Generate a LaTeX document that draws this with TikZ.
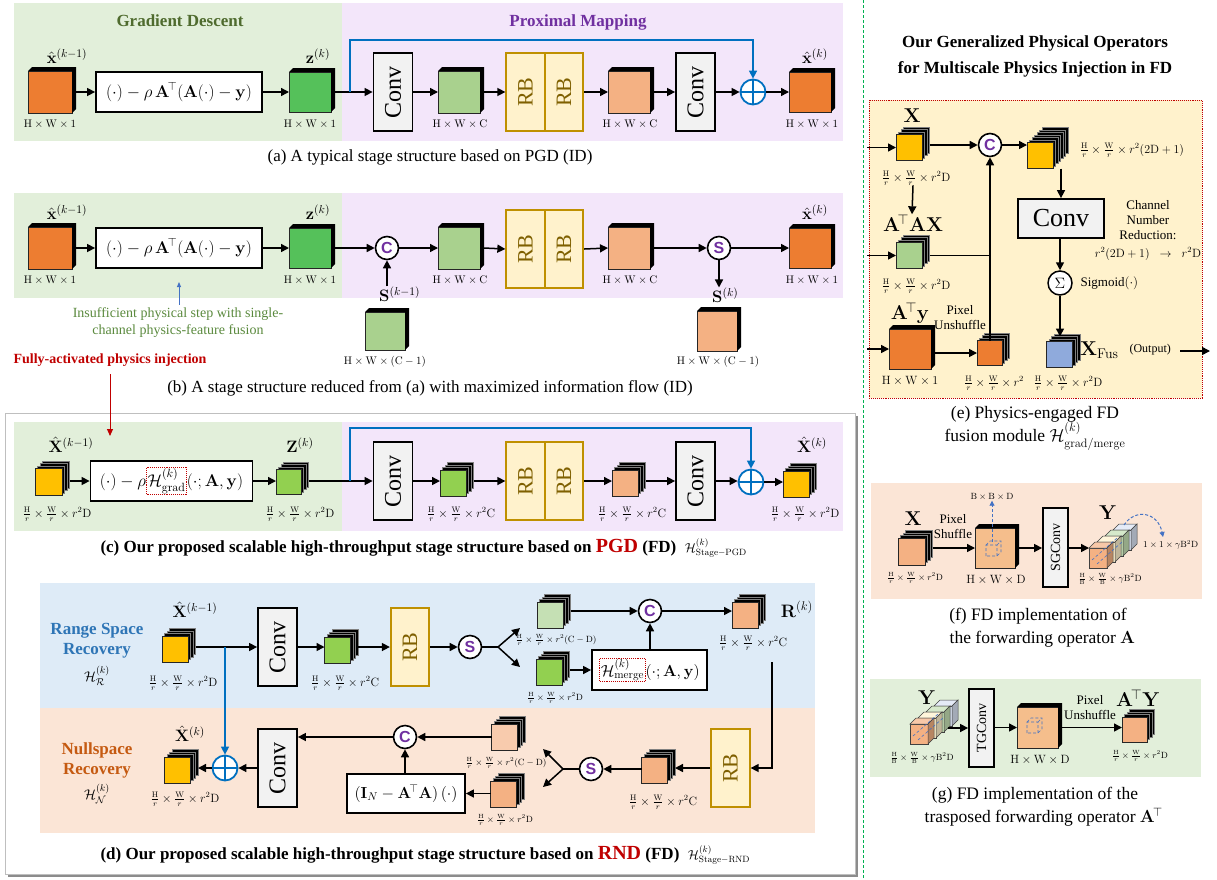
\RequirePackage{fix-cm}
\documentclass[tikz,border=0pt]{standalone}
\usepackage{amsmath}
\usepackage{graphicx}
\usepackage[no-math]{fontspec}
\setmainfont{Liberation Serif}
\newfontfamily\sansf{Liberation Sans}
\usetikzlibrary{arrows.meta,calc}

\definecolor{bgG}{HTML}{E2EFDA}
\definecolor{bgP}{HTML}{F3E6FA}
\definecolor{bgB}{HTML}{DEEBF7}
\definecolor{bgO}{HTML}{FBE5D6}
\definecolor{bgY}{HTML}{FFF2CC}
\definecolor{orC}{HTML}{ED7D31}
\definecolor{grC}{HTML}{55C15A}
\definecolor{lgC}{HTML}{A9D18E}
\definecolor{g2C}{HTML}{92D050}
\definecolor{pgC}{HTML}{C5E0B4}
\definecolor{saC}{HTML}{F4B183}
\definecolor{peC}{HTML}{F8CBAD}
\definecolor{yeC}{HTML}{FFC000}
\definecolor{blC}{HTML}{8FAADC}
\definecolor{rbF}{HTML}{FFF2CC}
\definecolor{rbB}{HTML}{BF9000}
\definecolor{rbT}{HTML}{7F6000}
\definecolor{cvF}{HTML}{F2F2F2}
\definecolor{lblue}{HTML}{0070C0}
\definecolor{dblue}{HTML}{4472C4}
\definecolor{purp}{HTML}{7030A0}
\definecolor{gdT}{HTML}{4F6B2E}
\definecolor{rsT}{HTML}{2E75B6}
\definecolor{nsT}{HTML}{C55A11}
\definecolor{redC}{HTML}{C00000}
\definecolor{insG}{HTML}{5B8A3E}
\definecolor{sepG}{HTML}{00B050}
\definecolor{bcF}{HTML}{F5BE8C}
\definecolor{ycB}{HTML}{DAE3F3}
\definecolor{ycY}{HTML}{FFF2CC}

\newcommand\szT{\fontsize{17}{20}\selectfont}
\newcommand\szF{\fontsize{17}{20}\selectfont}
\newcommand\szL{\fontsize{11}{13}\selectfont}
\newcommand\szQ{\fontsize{12}{14}\selectfont}
\newcommand\szM{\fontsize{16.5}{19}\selectfont}
\newcommand\szS{\fontsize{14}{17}\selectfont}
\newcommand\szXS{\fontsize{9}{11}\selectfont}
\newcommand\szConv{\fontsize{24}{28}\selectfont}
\newcommand\szRB{\fontsize{22}{26}\selectfont}

\newcommand\cubeone[5]{%
  \node[cubeface, fill=#5, minimum width=#3, minimum height=#4] (#1) at (#2) {};
  \fill[black] (#1.north west) -- ++(4,-4) -- ([shift={(4,-4)}]#1.north east) -- ([shift={(4,-4)}]#1.south east) -- (#1.south east) -- (#1.north east) -- cycle;
  \coordinate (#1-r) at ([xshift=4]#1.east);
}
\newcommand\cubestack[5][3]{%
  \foreach \ii in {#1,...,1}{\node[stackface, minimum size=#4] (#2-l\ii) at ($(#3)+(2.5*\ii,-2.5*\ii)$) {};}
  \node[cubeface, fill=#5, minimum size=#4] (#2) at (#3) {};
  \coordinate (#2-r) at ([xshift=2.5*#1]#2.east);
}
\newcommand\dcube[1]{%
  \begin{scope}[shift={(#1)}]
  \draw[dblue, densely dashed, line width=0.6pt] (0,0) rectangle (11,-11) (0,-11) -- (4,-15) -- (15,-15) -- (15,-4) -- (11,0) (11,-11) -- (15,-15);
  \end{scope}}
\newcommand\ycubes[1]{%
  \foreach \cc/\kk in {ycB/3,pgC/2,ycY/1,saC/0}{%
    \begin{scope}[shift={($(#1)+(8*\kk,-6*\kk)$)}]
    \filldraw[fill=\cc, draw=black!75, line width=0.5pt] (0,0) rectangle (18,-20);
    \filldraw[fill=\cc!70!white, draw=black!75, line width=0.5pt] (0,-20) -- (6,-26) -- (24,-26) -- (18,-20) -- cycle;
    \filldraw[fill=\cc!75!black, draw=black!75, line width=0.5pt] (18,0) -- (24,-6) -- (24,-26) -- (18,-20) -- cycle;
    \end{scope}}
  \draw[dblue, densely dashed, line width=0.6pt] ($(#1)+(3,-8)$) -- ($(#1)+(28,-30)$) ($(#1)+(8,-4)$) -- ($(#1)+(33,-26)$);
}

\begin{document}
\begin{tikzpicture}[x=1pt,y=-1pt,
  cubeface/.style={draw=black!85, line width=0.5pt, inner sep=0, outer sep=0},
  stackface/.style={draw=black!50, fill=black, line width=0.4pt, inner sep=0, outer sep=0},
  fbox/.style={draw, line width=1.8pt, fill=white, inner sep=2pt, font=\szF},
  convbox/.style={draw, line width=1.8pt, fill=cvF, minimum width=39, minimum height=78, inner sep=0},
  rbbox/.style={draw=rbB, line width=1.8pt, fill=rbF, minimum width=38.5, minimum height=78, inner sep=0, text=rbT},
  circ/.style={circle, draw, line width=1.6pt, fill=white, minimum size=23, inner sep=0, text=purp, font=\sansf\bfseries\fontsize{16}{16}\selectfont},
  opl/.style={circle, draw=lblue, line width=1.8pt, fill=white, minimum size=25, inner sep=0,
    path picture={\draw[lblue, line width=1.8pt] (path picture bounding box.north) -- (path picture bounding box.south) (path picture bounding box.west) -- (path picture bounding box.east);}},
  arr/.style={-{Triangle[length=8pt,width=8pt]}, line width=1.5pt},
  barr/.style={arr, draw=lblue},
  ln/.style={line width=1.5pt},
  lab/.style={inner sep=0, font=\szL},
  flab/.style={inner sep=0, font=\szQ},
  tlab/.style={inner sep=0, font=\szXS},
  mlab/.style={inner sep=0, font=\szM},
  hbox/.style={draw=redC, densely dotted, line width=0.9pt, inner sep=1pt, outer sep=0pt, minimum width=0pt, minimum height=0pt, fill=none, anchor=base}
]
\useasboundingbox (0,0) rectangle (1217,879);
\fill[white] (0,0) rectangle (1217,879);

% separator
\draw[sepG, line width=0.9pt, dash pattern=on 3pt off 2pt] (863,0) -- (863,879);

% ================= (a) =================
\fill[bgG] (14,3) rectangle (342,141);
\fill[bgP] (342,3) rectangle (843,141);
\node[font=\szT\bfseries, text=gdT] (ta1) at (180,21) {Gradient Descent};
\node[font=\szT\bfseries, text=purp] (ta2) at (578,22) {Proximal Mapping};
\cubeone{xa0}{50,92}{44}{42}{orC}
\node[mlab] (la1) at (67,56) {$\hat{\mathbf{x}}^{(k-1)}$};
\node[lab] (la2) at (50,124) {$\mathrm{H}\times\mathrm{W}\times1$};
\node[fbox, minimum width=166, minimum height=40] (fa) at (179,92) {$(\cdot)-\rho\,\mathbf{A}^{\!\top}(\mathbf{A}(\cdot)-\mathbf{y})$};
\cubeone{za}{310,92}{42}{40}{grC}
\node[mlab] (la3) at (318,56) {$\mathbf{z}^{(k)}$};
\node[lab] (la4) at (310,124) {$\mathrm{H}\times\mathrm{W}\times1$};
\node[convbox] (ca1) at (393,92) {\rotatebox{90}{\szConv Conv}};
\cubeone{ga}{459,92}{42}{42}{lgC}
\node[lab] (la5) at (460,124) {$\mathrm{H}\times\mathrm{W}\times\mathrm{C}$};
\node[rbbox] (rba1) at (525.5,92) {\rotatebox{90}{\szRB RB}};
\node[rbbox] (rba2) at (564,92) {\rotatebox{90}{\szRB RB}};
\cubeone{sa}{629,92}{42}{42}{saC}
\node[lab] (la6) at (630,124) {$\mathrm{H}\times\mathrm{W}\times\mathrm{C}$};
\node[convbox] (ca2) at (695.5,92) {\rotatebox{90}{\szConv Conv}};
\node[opl] (pa) at (753,92) {};
\cubeone{xa1}{810,92}{42}{40}{orC}
\node[mlab] (la7) at (815,56) {$\hat{\mathbf{x}}^{(k)}$};
\node[lab] (la8) at (812,124) {$\mathrm{H}\times\mathrm{W}\times1$};
\draw[arr] (xa0-r) -- (fa.west);
\draw[arr] (fa.east) -- (za.west);
\draw[arr] (za-r) -- (ca1.west);
\draw[arr] (ca1.east) -- (ga.west);
\draw[arr] (ga-r) -- (rba1.west);
\draw[arr] (rba2.east) -- (sa.west);
\draw[arr] (sa-r) -- (ca2.west);
\draw[arr] (ca2.east) -- (pa.west);
\draw[arr] (pa.east) -- (xa1.west);
\coordinate (ba1) at (350,92); \coordinate (ba2) at (350,40);
\draw[barr] (ba1) -- (ba2) -| (pa.north);
\node[font=\szT] (capa) at (430,157) {(a) A typical stage structure based on PGD (ID)};

% ================= (b) =================
\fill[bgG] (14,193) rectangle (342,298);
\fill[bgP] (342,193) rectangle (843,298);
\cubeone{xb0}{50,248}{44}{42}{orC}
\node[mlab] (lb1) at (67,212) {$\hat{\mathbf{x}}^{(k-1)}$};
\node[lab] (lb2) at (50,280) {$\mathrm{H}\times\mathrm{W}\times1$};
\node[fbox, minimum width=166, minimum height=40] (fb) at (179,248) {$(\cdot)-\rho\,\mathbf{A}^{\!\top}(\mathbf{A}(\cdot)-\mathbf{y})$};
\cubeone{zb}{310,248}{42}{40}{grC}
\node[mlab] (lb3) at (318,212) {$\mathbf{z}^{(k)}$};
\node[lab] (lb3b) at (310,280) {$\mathrm{H}\times\mathrm{W}\times1$};
\node[circ] (Cb) at (387,248) {C};
\node[mlab, anchor=west] (lb4) at (379,294) {$\mathbf{S}^{(k-1)}$};
\cubeone{sbk}{385,331}{40}{38}{lgC}
\node[lab] (lb5) at (385,362) {$\mathrm{H}\times\mathrm{W}\times(\mathrm{C}-1)$};
\cubeone{gb}{459,248}{42}{42}{lgC}
\node[lab] (lb6) at (460,280) {$\mathrm{H}\times\mathrm{W}\times\mathrm{C}$};
\node[rbbox] (rbb1) at (525.5,249) {\rotatebox{90}{\szRB RB}};
\node[rbbox] (rbb2) at (564,249) {\rotatebox{90}{\szRB RB}};
\cubeone{sb}{629,248}{42}{42}{saC}
\node[lab] (lb6b) at (630,280) {$\mathrm{H}\times\mathrm{W}\times\mathrm{C}$};
\node[circ] (Sb) at (719,248) {S};
\node[mlab, anchor=west] (lb7) at (712,295) {$\mathbf{S}^{(k)}$};
\cubeone{skb}{717,331}{40}{40}{saC}
\node[lab] (lb8) at (718,362) {$\mathrm{H}\times\mathrm{W}\times(\mathrm{C}-1)$};
\cubeone{xb1}{810,248}{42}{40}{orC}
\node[mlab] (lb9) at (815,212) {$\hat{\mathbf{x}}^{(k)}$};
\node[lab] (lb10) at (812,280) {$\mathrm{H}\times\mathrm{W}\times1$};
\draw[arr] (xb0-r) -- (fb.west);
\draw[arr] (fb.east) -- (zb.west);
\draw[arr] (zb-r) -- (Cb.west);
\draw[arr] (Cb.south |- lb4.north) -- (Cb.south);
\draw[arr] (Cb.east) -- (gb.west);
\draw[arr] (gb-r) -- (rbb1.west);
\draw[arr] (rbb2.east) -- (sb.west);
\draw[arr] (sb-r) -- (Sb.west);
\draw[arr] (Sb.east) -- (xb1.west);
\draw[arr] (Sb.south) -- (Sb.south |- lb7.north);
\node[font=\szS, text=insG, align=center] (ins) at (178,323) {Insufficient physical step with single-\\channel physics-feature fusion};
\draw[dblue, line width=0.9pt, -{Triangle[length=5pt,width=4pt]}] (ins.north -| fb.south) -- (fb.south |- 0,282);
\node[font=\szS\bfseries, text=redC] (fai) at (110,360) {Fully-activated physics injection};
\node[font=\szT] (capb) at (430,388) {(b) A stage structure reduced from (a) with maximized information flow (ID)};

% ================= frame (c)+(d) =================
\fill[black!45] (8,416) rectangle (858,877);
\filldraw[fill=white, draw=black!25, line width=0.8pt] (5,413) rectangle (855,874);

% ================= (c) =================
\fill[bgG] (14,422) rectangle (342,531);
\fill[bgP] (342,422) rectangle (843,531);
\cubestack{xc0}{48.5,482}{27}{yeC}
\node[mlab] (lc1) at (71,445) {$\hat{\mathbf{X}}^{(k-1)}$};
\node[flab] (lc2) at (57,514) {$\frac{\mathrm{H}}{r}\times\frac{\mathrm{W}}{r}\times r^2\mathrm{D}$};
\node[fbox, minimum width=162, minimum height=40] (fc) at (171.5,481) {$(\cdot)-\rho$\tikz[baseline=(hg.base)]\node[hbox] (hg) {$\mathcal{H}^{(k)}_{\mathrm{grad}}$};$(\cdot;\mathbf{A},\mathbf{y})$};
\cubestack{zc}{288.5,482}{25}{g2C}
\node[mlab] (lc3) at (300,445) {$\mathbf{Z}^{(k)}$};
\node[flab] (lc4) at (300,514) {$\frac{\mathrm{H}}{r}\times\frac{\mathrm{W}}{r}\times r^2\mathrm{D}$};
\node[convbox] (cc1) at (393,481) {\rotatebox{90}{\szConv Conv}};
\cubestack{gc}{453,483}{26}{g2C}
\node[flab] (lc5) at (461,514) {$\frac{\mathrm{H}}{r}\times\frac{\mathrm{W}}{r}\times r^2\mathrm{C}$};
\node[rbbox] (rbc1) at (525.5,481) {\rotatebox{90}{\szRB RB}};
\node[rbbox] (rbc2) at (564,481) {\rotatebox{90}{\szRB RB}};
\cubestack{sc}{625,483}{26}{saC}
\node[flab] (lc6) at (632,514) {$\frac{\mathrm{H}}{r}\times\frac{\mathrm{W}}{r}\times r^2\mathrm{C}$};
\node[convbox] (cc2) at (695.5,481) {\rotatebox{90}{\szConv Conv}};
\node[opl] (pc) at (751,482) {};
\cubestack{xc1}{796,484}{26}{yeC}
\node[mlab] (lc7) at (812,445) {$\hat{\mathbf{X}}^{(k)}$};
\node[flab] (lc8) at (805,514) {$\frac{\mathrm{H}}{r}\times\frac{\mathrm{W}}{r}\times r^2\mathrm{D}$};
\draw[arr] (xc0-r |- fc.west) -- (fc.west);
\draw[arr] (fc.east) -- (zc.west |- fc.east);
\draw[arr] (zc-r |- cc1.west) -- (cc1.west);
\draw[arr] (cc1.east) -- (gc.west |- cc1.east);
\draw[arr] (gc-r |- rbc1.west) -- (rbc1.west);
\draw[arr] (rbc2.east) -- (sc.west |- rbc2.east);
\draw[arr] (sc-r |- cc2.west) -- (cc2.west);
\draw[arr] (cc2.east) -- (pc.west |- cc2.east);
\draw[arr] (pc.east) -- (xc1.west |- pc.east);
\coordinate (bc1) at (350,481); \coordinate (bc2) at (350,428);
\draw[barr] (bc1) -- (bc2) -| (pc.north);
\coordinate (rf1) at (110,374);
\draw[redC, line width=1pt, -{Triangle[length=7pt,width=6pt]}] (rf1) -- (fai.south |- 0,436);
\node[anchor=west, font=\szT\bfseries] (capc) at (97,548) {(c) Our proposed scalable high-throughput stage structure based on \textcolor{redC}{\fontsize{20}{20}\selectfont PGD} (FD)\ \ {\normalfont\fontsize{13}{15}\selectfont$\mathcal{H}^{(k)}_{\mathrm{Stage}-\mathrm{PGD}}$}};

% ================= (d) =================
\fill[bgB] (40,583) rectangle (815,708);
\fill[bgO] (40,708) rectangle (815,833);
\node[font=\szT\bfseries, text=rsT, align=center] (rs) at (97,641) {Range Space\\Recovery};
\node[mlab, font=\fontsize{14}{16}\selectfont] (rsh) at (97,676) {$\mathcal{H}^{(k)}_{\mathcal{R}}$};
\node[font=\szT\bfseries, text=nsT, align=center] (ns) at (97,760) {Nullspace\\Recovery};
\node[mlab, font=\fontsize{14}{16}\selectfont] (nsh) at (97,794) {$\mathcal{H}^{(k)}_{\mathcal{N}}$};
\cubestack{xd0}{175,649}{26}{yeC}
\node[mlab] (ld1) at (195,610) {$\hat{\mathbf{X}}^{(k-1)}$};
\node[flab] (ld2) at (183,683) {$\frac{\mathrm{H}}{r}\times\frac{\mathrm{W}}{r}\times r^2\mathrm{D}$};
\node[convbox] (cd1) at (277.5,647) {\rotatebox{90}{\szConv Conv}};
\cubestack{gd}{337.5,650}{26}{g2C}
\node[flab] (ld3) at (345,683) {$\frac{\mathrm{H}}{r}\times\frac{\mathrm{W}}{r}\times r^2\mathrm{C}$};
\node[rbbox] (rbd1) at (410,647) {\rotatebox{90}{\szRB RB}};
\node[circ] (Sd1) at (470,647) {S};
\coordinate (fk1) at (498,647);
\coordinate (fk1a) at (520,628);
\coordinate (fk1b) at (520,667);
\cubestack{lgd}{550,615}{26}{pgC}
\node[tlab] (ld4) at (556,640) {$\frac{\mathrm{H}}{r}\times\frac{\mathrm{W}}{r}\times r^2(\mathrm{C}-\mathrm{D})$};
\cubestack{gd2}{549,672}{26}{g2C}
\node[tlab] (ld5) at (555,698) {$\frac{\mathrm{H}}{r}\times\frac{\mathrm{W}}{r}\times r^2\mathrm{D}$};
\node[circ] (Cd1) at (650,611) {C};
\node[fbox, font=\fontsize{16}{19}\selectfont, minimum width=115, minimum height=40] (mg) at (649.5,670) {\tikz[baseline=(hm.base)]\node[hbox] (hm) {$\mathcal{H}^{(k)}_{\mathrm{merge}}$};$(\cdot;\mathbf{A},\mathbf{y})$};
\cubestack{Rd}{745,615}{26}{saC}
\node[mlab, font=\fontsize{18}{20}\selectfont] (ld6) at (797,609) {$\mathbf{R}^{(k)}$};
\node[flab] (ld7) at (753,643) {$\frac{\mathrm{H}}{r}\times\frac{\mathrm{W}}{r}\times r^2\mathrm{C}$};
\coordinate (rdl) at (772,662);
\node[rbbox] (rbd2) at (730.5,768) {\rotatebox{90}{\szRB RB}};
\cubestack{sd2}{654.5,770}{26}{saC}
\node[flab] (ld8) at (663,802) {$\frac{\mathrm{H}}{r}\times\frac{\mathrm{W}}{r}\times r^2\mathrm{C}$};
\node[circ] (Sd2) at (591,769) {S};
\coordinate (fk2) at (563,769);
\coordinate (fk2a) at (543,749);
\coordinate (fk2b) at (543,787);
\cubestack{pd}{504.5,737}{26}{peC}
\node[tlab] (ld9) at (506,763) {$\frac{\mathrm{H}}{r}\times\frac{\mathrm{W}}{r}\times r^2(\mathrm{C}-\mathrm{D})$};
\cubestack{sd3}{503.5,794}{26}{saC}
\node[tlab] (ld10) at (505,820) {$\frac{\mathrm{H}}{r}\times\frac{\mathrm{W}}{r}\times r^2\mathrm{D}$};
\node[circ] (Cd2) at (405,737) {C};
\node[fbox, font=\fontsize{16}{19}\selectfont, minimum width=118, minimum height=39] (inb) at (406,793.5) {$(\mathbf{I}_N-\mathbf{A}^{\!\top}\mathbf{A})\,(\cdot)$};
\node[convbox] (cd2) at (277.5,768) {\rotatebox{90}{\szConv Conv}};
\node[opl] (pd1) at (225,768) {};
\cubestack{xd1}{177.5,770}{26}{yeC}
\node[mlab] (ld11) at (190,734) {$\hat{\mathbf{X}}^{(k)}$};
\node[flab] (ld12) at (185,799) {$\frac{\mathrm{H}}{r}\times\frac{\mathrm{W}}{r}\times r^2\mathrm{D}$};
\draw[arr] (xd0-r |- cd1.west) -- (cd1.west);
\draw[arr] (cd1.east) -- (gd.west |- cd1.east);
\draw[arr] (gd-r |- rbd1.west) -- (rbd1.west);
\draw[arr] (rbd1.east) -- (Sd1.west);
\draw[ln] (Sd1.east) -- (fk1);
\draw[arr] (fk1) -- (fk1a);
\draw[arr] (fk1) -- (fk1b);
\draw[arr] (lgd-r |- Cd1.west) -- (Cd1.west);
\draw[arr] (gd2-r |- mg.west) -- (mg.west);
\draw[arr] (Cd1.south |- mg.north) -- (Cd1.south);
\draw[arr] (Cd1.east) -- (Rd.west |- Cd1.east);
\draw[arr] (rdl) |- (rbd2.east);
\draw[arr] (rbd2.west) -- (sd2-r |- rbd2.west);
\draw[arr] (sd2.west |- Sd2.east) -- (Sd2.east);
\draw[ln] (Sd2.west) -- (fk2);
\draw[arr] (fk2) -- (fk2a);
\draw[arr] (fk2) -- (fk2b);
\draw[arr] (pd.west |- Cd2.east) -- (Cd2.east);
\draw[arr] (sd3.west |- inb.east) -- (inb.east);
\draw[arr] (Cd2.south |- inb.north) -- (Cd2.south);
\draw[arr] (Cd2.west) -- (cd2.east |- Cd2.west);
\draw[arr] (cd2.west |- pd1.east) -- (pd1.east);
\draw[arr] (pd1.west) -- (xd1-r |- pd1.west);
\coordinate (bd1) at (225,647);
\draw[barr] (bd1) -- (pd1.north);
\node[anchor=west, font=\szT\bfseries] (capd) at (97,855) {(d) Our proposed scalable high-throughput stage structure based on \textcolor{redC}{\fontsize{20}{20}\selectfont RND} (FD)\ \ {\normalfont\fontsize{13}{15}\selectfont$\mathcal{H}^{(k)}_{\mathrm{Stage}-\mathrm{RND}}$}};

% ================= (e) =================
\node[font=\fontsize{17}{26}\selectfont\bfseries, align=center] (te) at (1035,56) {Our Generalized Physical Operators\\for Multiscale Physics Injection in FD};
\draw[redC, densely dotted, line width=0.9pt, fill=bgY] (869,100) rectangle (1202,398);
\cubestack{Xe}{909,147.5}{26}{yeC}
\node[mlab, font=\fontsize{20}{22}\selectfont] (le1) at (912,116) {$\mathbf{X}$};
\node[flab] (le2) at (916,178) {$\frac{\mathrm{H}}{r}\times\frac{\mathrm{W}}{r}\times r^2\mathrm{D}$};
\node[mlab, font=\fontsize{20}{22}\selectfont] (le3) at (913,223) {$\mathbf{A}^{\!\top}\mathbf{A}\mathbf{X}$};
\cubestack{Ge}{909,255.5}{26}{lgC}
\node[flab] (le4) at (916,286) {$\frac{\mathrm{H}}{r}\times\frac{\mathrm{W}}{r}\times r^2\mathrm{D}$};
\node[mlab, font=\fontsize{20}{22}\selectfont] (le5) at (910,313) {$\mathbf{A}^{\!\top}\mathbf{y}$};
\cubeone{Oe}{910,349}{42}{40}{orC}
\node[flab] (le6) at (910,381) {$\mathrm{H}\times\mathrm{W}\times1$};
\node[font=\fontsize{13}{15}\selectfont, align=center] (le7) at (960,318) {Pixel\\Unshuffle};
\cubestack{os}{989.5,353}{25}{orC}
\node[flab] (le8) at (994,383) {$\frac{\mathrm{H}}{r}\times\frac{\mathrm{W}}{r}\times r^2$};
\node[circ] (Ce) at (990,145) {C};
\cubestack[6]{be}{1040,155.5}{26}{yeC}
\node[flab] (le9) at (1132,150) {$\frac{\mathrm{H}}{r}\times\frac{\mathrm{W}}{r}\times r^2(2\mathrm{D}+1)$};
\node[draw, line width=1.8pt, fill=cvF, minimum width=86, minimum height=39, inner sep=0, font=\fontsize{26}{28}\selectfont] (ce) at (1061,218.5) {Conv};
\node[font=\fontsize{13}{15}\selectfont, align=center] (le10) at (1148,220) {Channel\\Number\\Reduction:};
\node[flab] (le11) at (1148,254) {$r^2(2\mathrm{D}+1)\;\;\to\;\;r^2\mathrm{D}$};
\node[circle, draw, line width=1.5pt, fill=white, minimum size=24, inner sep=0, font=\fontsize{15}{15}\selectfont] (sge) at (1060,283) {$\Sigma$};
\node[font=\fontsize{13}{15}\selectfont, anchor=west] (le12) at (1077,283) {Sigmoid$(\cdot)$};
\cubestack{bl}{1059.5,354.5}{26}{blC}
\node[mlab, font=\fontsize{20}{22}\selectfont, anchor=west] (le13) at (1080,350) {$\mathbf{X}_{\mathrm{Fus}}$};
\node[font=\fontsize{12}{14}\selectfont, anchor=west] (le14) at (1126,350) {(Output)};
\node[flab] (le15) at (1068,383) {$\frac{\mathrm{H}}{r}\times\frac{\mathrm{W}}{r}\times r^2\mathrm{D}$};
\coordinate (ei1) at (867,147.5); \coordinate (ei2) at (867,255.5); \coordinate (ei3) at (867,349);
\coordinate (eo1) at (1180,351); \coordinate (eo2) at (1210,351);
\draw[arr] (ei1) -- (Xe.west);
\draw[arr] (ei2) -- (Ge.west);
\draw[arr] (ei3) -- (Oe.west);
\draw[arr] ([xshift=-3]le2.south) -- ([xshift=-1]le3.north);
\draw[arr] (Xe-r |- Ce.west) -- (Ce.west);
\draw[ln] (Ge-r) -- (Ge-r -| Ce.south);
\draw[arr] (Oe-r |- os.west) -- (os.west);
\draw[arr] (Ce.south |- os.north) -- (Ce.south);
\draw[arr] (Ce.east) -- (Ce.east -| be.west);
\draw[arr] (ce.north |- be.south) -- (ce.north);
\draw[arr] (ce.south -| sge.north) -- (sge.north);
\draw[arr] (sge.south) -- ([yshift=5]sge.south |- bl.north);
\draw[arr] (eo1) -- (eo2);
\node[font=\fontsize{17.5}{23}\selectfont, align=center] (cape) at (1035,428) {(e) Physics-engaged FD\\fusion module $\mathcal{H}^{(k)}_{\mathrm{grad/merge}}$};

% ================= (f) =================
\fill[bgO] (871,483) rectangle (1202,599);
\node[mlab, font=\fontsize{20}{22}\selectfont] (lf1) at (913,519) {$\mathbf{X}$};
\cubestack{xf}{911.5,551.5}{27}{saC}
\node[tlab] (lf2) at (915,578) {$\frac{\mathrm{H}}{r}\times\frac{\mathrm{W}}{r}\times r^2\mathrm{D}$};
\node[font=\fontsize{13}{15}\selectfont, align=center] (lf3) at (953,527) {Pixel\\Shuffle};
\cubeone{bf}{995,548}{40}{40}{bcF}
\dcube{986,556}
\node[tlab] (lf4) at (992,497) {$\mathrm{B}\times\mathrm{B}\times\mathrm{D}$};
\coordinate (bfu) at (992,542);
\draw[dblue, densely dashed, line width=0.9pt, -{Triangle[length=5pt,width=5pt]}] (bfu) -- (lf4.south);
\node[flab] (lf5) at (996,580) {$\mathrm{H}\times\mathrm{W}\times\mathrm{D}$};
\node[draw, line width=1.8pt, fill=cvF, minimum width=25, minimum height=79, inner sep=0] (sgc) at (1055.5,547.5) {\rotatebox{90}{\fontsize{14}{16}\selectfont SGConv}};
\node[mlab, font=\fontsize{20}{22}\selectfont] (lf6) at (1108,513) {$\mathbf{Y}$};
\ycubes{1089,568}
\coordinate (yf) at (1089,548);
\coordinate (cf1) at (1124,525); \coordinate (cf2) at (1163,537);
\draw[dblue, densely dashed, line width=1pt, -{Triangle[length=5pt,width=5pt]}] (cf1) .. controls (1135,508) and (1158,512) .. (cf2);
\node[tlab, anchor=west] (lf7) at (1143,545) {$1\times1\times\gamma\mathrm{B}^2\mathrm{D}$};
\node[tlab] (lf8) at (1110,579) {$\frac{\mathrm{H}}{\mathrm{B}}\times\frac{\mathrm{W}}{\mathrm{B}}\times\gamma\mathrm{B}^2\mathrm{D}$};
\draw[arr] (xf-r |- bf.west) -- (bf.west);
\draw[arr] (bf-r) -- (sgc.west |- bf-r);
\draw[arr] (sgc.east |- yf) -- (yf);
\node[font=\fontsize{17.5}{23}\selectfont, align=center] (capf) at (1038,628) {(f) FD implementation of\\\ \ the forwarding operator $\mathbf{A}$};

% ================= (g) =================
\fill[bgG] (870,679) rectangle (1201,777);
\node[mlab, font=\fontsize{20}{22}\selectfont] (lg1) at (927,698) {$\mathbf{Y}$};
\ycubes{910,744}
\coordinate (yg) at (948,728);
\node[tlab] (lg2) at (922,758) {$\frac{\mathrm{H}}{\mathrm{B}}\times\frac{\mathrm{W}}{\mathrm{B}}\times\gamma\mathrm{B}^2\mathrm{D}$};
\node[draw, line width=1.8pt, fill=cvF, minimum width=25, minimum height=78, inner sep=0] (tgc) at (981.5,728) {\rotatebox{90}{\fontsize{14}{16}\selectfont TGConv}};
\cubeone{bg2}{1037.5,727.5}{41}{41}{bcF}
\dcube{1027,733}
\node[flab] (lg3) at (1040,760) {$\mathrm{H}\times\mathrm{W}\times\mathrm{D}$};
\node[font=\fontsize{13}{15}\selectfont, align=center] (lg4) at (1090,708) {Pixel\\Unshuffle};
\cubestack{ats}{1134.5,729.5}{25}{saC}
\node[mlab, font=\fontsize{20}{22}\selectfont] (lg5) at (1138,698) {$\mathbf{A}^{\!\top}\mathbf{Y}$};
\node[tlab] (lg6) at (1140,756) {$\frac{\mathrm{H}}{r}\times\frac{\mathrm{W}}{r}\times r^2\mathrm{D}$};
\draw[arr] (yg) -- (tgc.west |- yg);
\draw[arr] (tgc.east |- bg2.west) -- (bg2.west);
\draw[arr] (bg2-r) -- (ats.west |- bg2-r);
\node[font=\fontsize{17.5}{23}\selectfont, align=center] (capg) at (1035,807) {(g) FD implementation of the\\\ \ \ \ trasposed forwarding operator $\mathbf{A}^{\!\top}$};

\end{tikzpicture}
\end{document}
